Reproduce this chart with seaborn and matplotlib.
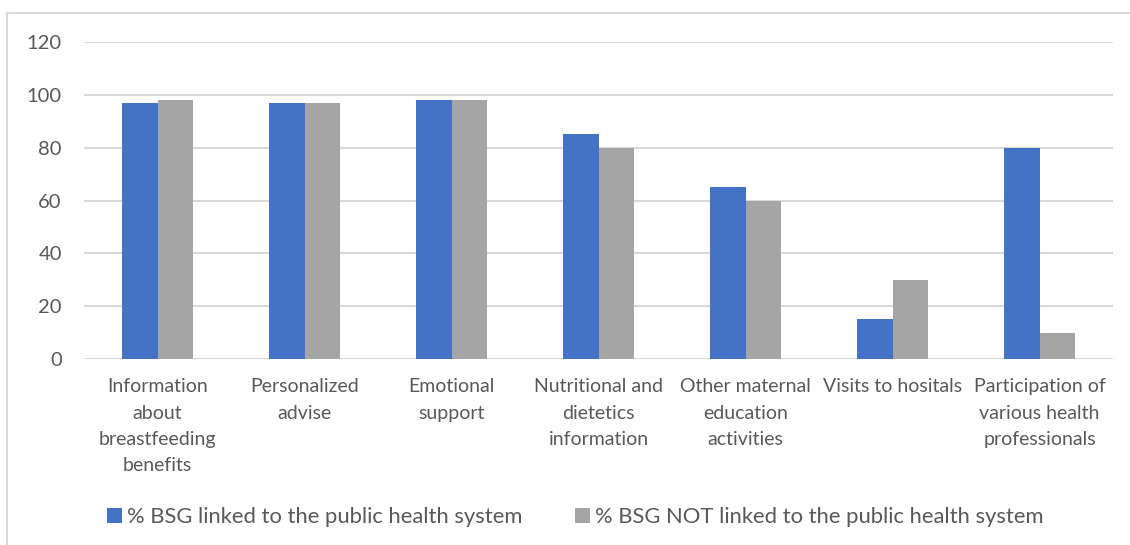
import matplotlib
matplotlib.use("Agg")
import matplotlib.pyplot as plt
from matplotlib.patches import Rectangle
import pandas as pd
import seaborn as sns

categories = [
    "Information\nabout\nbreastfeeding\nbenefits",
    "Personalized\nadvise",
    "Emotional\nsupport",
    "Nutritional and\ndietetics\ninformation",
    "Other maternal\neducation\nactivities",
    "Visits to hositals",
    "Participation of\nvarious health\nprofessionals",
]
linked = [97, 97, 98, 85, 65, 15, 80]
not_linked = [98, 97, 98, 80, 60, 30, 10]
series_names = [
    "% BSG linked to the public health system",
    "% BSG NOT linked to the public health system",
]
y_ticks = [0, 20, 40, 60, 80, 100, 120]

df = pd.DataFrame({
    "category": categories * 2,
    "value": linked + not_linked,
    "series": [series_names[0]] * len(categories) + [series_names[1]] * len(categories),
})

sns.set_theme(style="white")
plt.rcParams["font.family"] = ["Lato", "DejaVu Sans"]

text_color = "#595959"
grid_color = "#D9D9D9"

fig = plt.figure(figsize=(11.3, 5.45), dpi=100)
ax = fig.add_axes([84 / 1130, 1 - 359 / 545, (1113 - 84) / 1130, (359 - 42) / 545])

sns.barplot(
    data=df, x="category", y="value", hue="series",
    palette=["#4472C4", "#A5A5A5"], width=0.48, saturation=1,
    edgecolor="none", ax=ax, legend=True,
)

ax.set_ylim(0, 120)
ax.set_yticks(y_ticks)
ax.set_xlim(-0.5, len(categories) - 0.5)
ax.yaxis.grid(True, color=grid_color, linewidth=1.5)
ax.set_axisbelow(True)
for s in ax.spines.values():
    s.set_visible(False)
ax.set_xlabel("")
ax.set_ylabel("")
ax.tick_params(axis="both", length=0, colors=text_color, labelsize=14)
ax.tick_params(axis="y", labelsize=14.5)
ax.tick_params(axis="x", pad=14)
ax.tick_params(axis="y", pad=16)
for lbl in ax.get_xticklabels():
    lbl.set_linespacing(1.65)
    lbl.set_verticalalignment("top")

handles, labels = ax.get_legend_handles_labels()
ax.get_legend().remove()
fig.legend(
    handles, labels, loc="center", bbox_to_anchor=(575.5 / 1130, 1 - 517 / 545),
    ncol=2, frameon=False, fontsize=15.8, handlelength=0.65, handleheight=0.65,
    handletextpad=0.25, columnspacing=2.4, labelcolor=text_color,
)

# outer chart frame
fig.add_artist(Rectangle(
    (7 / 1130, -0.1), 1.2, 1 - 13 / 545 + 0.1, transform=fig.transFigure,
    fill=False, edgecolor=grid_color, linewidth=1.5,
))

fig.savefig("out.png", dpi=100, facecolor="white")
